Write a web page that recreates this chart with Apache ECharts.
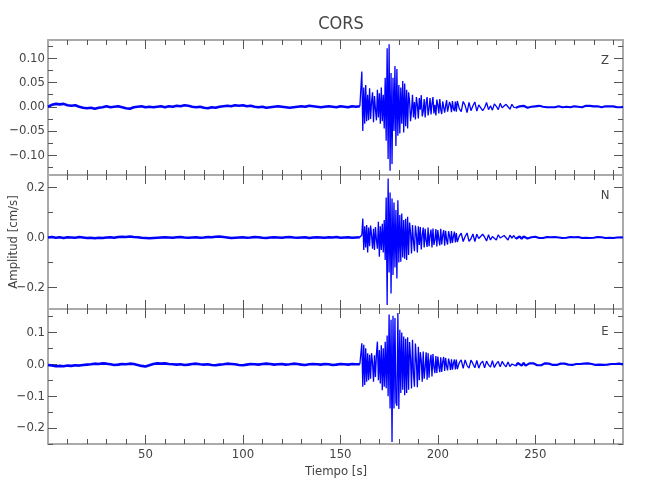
<!DOCTYPE html>
<html><head><meta charset="utf-8">
<script src="https://cdn.jsdelivr.net/npm/echarts@6/dist/echarts.min.js"></script>
<style>html,body{margin:0;padding:0;background:#fff}#c{width:650px;height:500px}</style>
</head><body><div id="c"></div>
<script>
// ---- texts ----
const chartTitle = 'CORS';
const xName = 'Tiempo [s]';
const yName = 'Amplitud [cm/s]';
const components = ['Z', 'N', 'E'];

// ---- ticks ----
const xMajorTicks = [50, 100, 150, 200, 250];
const xMinorTicks = [10,20,30,40,60,70,80,90,110,120,130,140,160,170,180,190,210,220,230,240,260,270,280,290];
const zMajorTicks = [-0.10, -0.05, 0, 0.05, 0.10];
const zMinorTicks = [-0.125, -0.075, -0.025, 0.025, 0.075, 0.125];
const nMajorTicks = [-0.2, 0, 0.2];
const nMinorTicks = [-0.1, 0.1];
const eMajorTicks = [-0.2, -0.1, 0, 0.1];
const eMinorTicks = [-0.25, -0.15, -0.05, 0.05, 0.15];
const xRange = [0, 295];
const zRange = [-0.141, 0.138];
const nRange = [-0.286, 0.25];
const eRange = [-0.25, 0.1735];

// ---- sampling grid (seconds): quiet part every 2 s, main shaking every 0.5 s, coda every 1 s ----
const segPre = { start: 0, step: 2 };       // 80 samples
const segBurst = { start: 160, step: 0.5 }; // 100 samples
const segTail = { start: 210, step: 1 };    // 86 samples
const lateCodaIndex = 30;                   // coda from 240 s drawn as a noise band

// ---- Z component (cm/s) ----
const zPre = [
 0.000, 0.004, 0.006, 0.005, 0.006, 0.003, 0.002, 0.003, 0.000,-0.002,
-0.003,-0.002,-0.004,-0.002,-0.001, 0.001,-0.001, 0.000, 0.001,-0.001,
-0.003,-0.004,-0.001, 0.000, 0.001,-0.001, 0.000,-0.001, 0.000, 0.001,
-0.001, 0.001, 0.000, 0.002, 0.001, 0.003, 0.002, 0.000,-0.001, 0.000,
-0.002,-0.003,-0.001,-0.002, 0.000, 0.001, 0.002, 0.001, 0.003, 0.002,
 0.003, 0.001, 0.002, 0.000,-0.001, 0.000,-0.002,-0.001, 0.000, 0.001,
 0.000,-0.001,-0.002,-0.001, 0.000, 0.001, 0.000, 0.002, 0.001, 0.000,
-0.001, 0.000, 0.001, 0.000,-0.001, 0.001, 0.000,-0.001, 0.001, 0.000];
const zBurst = [
 0.001,-0.002, 0.073,-0.050, 0.040,-0.035, 0.045,-0.030, 0.025,-0.028,
 0.038,-0.025, 0.010, 0.030,-0.032, 0.022,-0.005,-0.028, 0.035,-0.022,
 0.028,-0.035, 0.040,-0.030, 0.025,-0.045, 0.060,-0.070, 0.121,-0.108,
 0.129,-0.132, 0.070,-0.118, 0.060,-0.050, 0.084,-0.081, 0.078,-0.060,
 0.045,-0.055, 0.040,-0.035, 0.053,-0.053, 0.048,-0.040, 0.035,-0.045,
 0.030, 0.012,-0.030,-0.008, 0.025,-0.022, 0.010,-0.026, 0.020, 0.004,
-0.024, 0.018,-0.006, 0.024,-0.020,-0.010, 0.016,-0.022, 0.008, 0.020,
-0.018,-0.004, 0.018,-0.016, 0.006, 0.020,-0.014, 0.004,-0.018, 0.015,
 0.004,-0.014, 0.016,-0.006,-0.015, 0.011, 0.013,-0.012, 0.002, 0.014,
-0.010,-0.013, 0.010, 0.004,-0.011, 0.012,-0.004,-0.009, 0.011,-0.010];
const zTail = [
 0.012,-0.004,-0.010, 0.011, 0.003,-0.012, 0.009,-0.008, 0.002, 0.010,
-0.009, 0.004, 0.008,-0.008,-0.002, 0.009,-0.006, 0.002,-0.007, 0.006,
 0.001,-0.006, 0.007,-0.002,-0.005, 0.005, 0.000,-0.005, 0.005,-0.001,
-0.002, 0.002, 0.001,-0.002, 0.002,-0.001,-0.002, 0.002, 0.000,-0.001,
 0.001,-0.001, 0.002,-0.001, 0.000, 0.001,-0.001, 0.001,-0.001, 0.001,
-0.001,-0.001, 0.001, 0.001,-0.001, 0.001, 0.000, 0.001,-0.001, 0.001,
 0.001,-0.001, 0.000, 0.001,-0.001, 0.001, 0.002, 0.000, 0.002, 0.000,
 0.001,-0.001, 0.001, 0.001,-0.001, 0.000, 0.001,-0.001, 0.001,-0.001,
 0.001, 0.001,-0.001, 0.001,-0.001, 0.000];

// ---- N component (cm/s) ----
const nPre = [
 0.000, 0.002,-0.001, 0.001,-0.002, 0.001, 0.000,-0.001, 0.002, 0.000,
-0.002,-0.001,-0.003,-0.001,-0.002, 0.000, 0.001,-0.001, 0.002, 0.003,
 0.002, 0.004, 0.002, 0.001,-0.001,-0.002,-0.003,-0.002,-0.001, 0.000,
 0.001, 0.000,-0.001, 0.001, 0.002, 0.000,-0.001, 0.000, 0.001,-0.001,
 0.000, 0.002, 0.001, 0.003, 0.004, 0.002, 0.000,-0.002,-0.001, 0.000,
 0.001,-0.001, 0.000, 0.002, 0.001,-0.001,-0.002, 0.000, 0.001, 0.000,
-0.001, 0.001, 0.002, 0.000,-0.001, 0.000, 0.001,-0.002, 0.000, 0.001,
 0.000,-0.001, 0.001, 0.000, 0.002,-0.001, 0.000, 0.001,-0.001, 0.000];
const nBurst = [
 0.001,-0.002, 0.010, 0.076,-0.050, 0.045,-0.040, 0.050,-0.060, 0.040,
-0.035, 0.048, 0.010,-0.045, 0.035,-0.050, 0.042,-0.010,-0.045, 0.063,
-0.077, 0.045,-0.050, 0.055,-0.060, 0.070,-0.090, 0.160,-0.270, 0.236,
-0.140, 0.180,-0.224, 0.156,-0.150, 0.140,-0.120, 0.110,-0.164, 0.149,
-0.100, 0.090,-0.097, 0.096,-0.080, 0.070,-0.085, 0.075,-0.090, 0.083,
-0.070, 0.060, 0.020,-0.064, 0.050,-0.015,-0.055, 0.048, 0.010,-0.060,
 0.045,-0.030, 0.042,-0.048, 0.010, 0.040,-0.040, 0.035,-0.012,-0.038,
 0.040,-0.035, 0.008, 0.032,-0.040, 0.036,-0.030,-0.010, 0.034,-0.036,
 0.030,-0.008,-0.032, 0.035,-0.028, 0.010, 0.030,-0.033, 0.027,-0.010,
-0.028, 0.025, 0.006,-0.024, 0.026,-0.022, 0.004, 0.024,-0.020, 0.018];
const nTail = [
-0.018, 0.006, 0.017,-0.016, 0.004, 0.018,-0.015,-0.005, 0.014,-0.016,
 0.013,-0.004,-0.012, 0.013, 0.002,-0.014, 0.011,-0.010, 0.004, 0.012,
-0.010, 0.011,-0.002,-0.009, 0.008, 0.003,-0.010, 0.009,-0.002, 0.008,
-0.005, 0.002, 0.004,-0.005, 0.004,-0.001,-0.004, 0.003, 0.001,-0.003,
 0.003,-0.001,-0.002, 0.003,-0.002, 0.001, 0.002,-0.002, 0.001,-0.002,
 0.002,-0.002, 0.000, 0.002,-0.002, 0.002,-0.001, 0.001, 0.002,-0.002,
 0.001,-0.002, 0.002, 0.000,-0.002, 0.002,-0.001, 0.001,-0.002, 0.002,
-0.001,-0.002, 0.002,-0.001, 0.001, 0.000,-0.002, 0.002,-0.001, 0.001,
-0.002, 0.001, 0.000,-0.002, 0.001, 0.000];

// ---- E component (cm/s) ----
const ePre = [
-0.002,-0.004,-0.006,-0.005,-0.006,-0.004,-0.005,-0.003,-0.004,-0.002,
-0.001, 0.000, 0.002, 0.001, 0.003, 0.002, 0.000,-0.002,-0.001, 0.001,
 0.000, 0.002, 0.001,-0.002,-0.005,-0.007,-0.003, 0.001, 0.003, 0.002,
 0.003, 0.001, 0.000,-0.001, 0.000,-0.002,-0.001, 0.001, 0.002, 0.000,
-0.001, 0.000,-0.002,-0.003,-0.001, 0.000, 0.002, 0.001, 0.000,-0.002,
-0.003,-0.001, 0.001, 0.000,-0.001, 0.001, 0.002, 0.001,-0.001, 0.000,
 0.001,-0.001, 0.000, 0.002, 0.001,-0.001,-0.002, 0.000, 0.001, 0.000,
-0.001, 0.001, 0.000,-0.002,-0.001, 0.001, 0.000,-0.001, 0.001, 0.000];
const eBurst = [
 0.000,-0.003, 0.066,-0.070, 0.061,-0.065, 0.050,-0.055, 0.035,-0.050,
 0.030,-0.045, 0.035, 0.005,-0.055, 0.028,-0.040, 0.032, 0.071,-0.050,
 0.045,-0.060, 0.060,-0.081, 0.050,-0.070, 0.071,-0.075, 0.090,-0.100,
 0.156,-0.139, 0.140,-0.244, 0.152,-0.139, 0.145,-0.120,-0.130, 0.161,
-0.140, 0.108,-0.090, 0.100,-0.080, 0.087,-0.097, 0.080,-0.090, 0.085,
-0.080, 0.070, 0.020,-0.076, 0.077,-0.030,-0.070, 0.065, 0.010,-0.072,
 0.055,-0.050, 0.038, 0.012,-0.055, 0.040,-0.045,-0.010, 0.038,-0.048,
 0.035,-0.042, 0.010, 0.030,-0.038, 0.032,-0.008,-0.028, 0.026,-0.027,
 0.024,-0.005,-0.025, 0.022,-0.024, 0.008, 0.023,-0.021, 0.020,-0.006,
-0.019, 0.018, 0.004,-0.018, 0.016,-0.017, 0.003, 0.015,-0.016, 0.015];
const eTail = [
-0.015, 0.005, 0.014,-0.013, 0.014,-0.004,-0.012, 0.013, 0.002,-0.011,
 0.012,-0.012, 0.003, 0.010,-0.011, 0.010,-0.002,-0.009, 0.011,-0.010,
 0.002, 0.009,-0.008, 0.009,-0.001,-0.008, 0.007,-0.007, 0.001, 0.006,
-0.005, 0.004,-0.002,-0.004, 0.004,-0.004, 0.001, 0.003,-0.003, 0.003,
-0.001,-0.003, 0.003,-0.003, 0.001, 0.003,-0.003, 0.002,-0.001,-0.002,
 0.003,-0.002, 0.000, 0.002,-0.002, 0.002,-0.001,-0.001, 0.002,-0.002,
 0.001, 0.001,-0.002, 0.001,-0.001, 0.002,-0.002, 0.003,-0.002, 0.001,
 0.000,-0.002, 0.002,-0.001, 0.001,-0.002, 0.002,-0.001, 0.001, 0.001,
-0.002, 0.001,-0.001, 0.002,-0.001, 0.000];

// ---- build [time, value] pairs from the sampling grid ----
function pairs(seg, vals) { return vals.map((v, i) => [seg.start + i * seg.step, v]); }
const pres = [zPre, nPre, ePre];
const bursts = [zBurst, nBurst, eBurst];
const tails = [zTail, nTail, eTail];
const ranges = [zRange, nRange, eRange];
const majors = [zMajorTicks, nMajorTicks, eMajorTicks];
const minors = [zMinorTicks, nMinorTicks, eMinorTicks];
const decimals = [2, 1, 1];

// ---- styling ----
const FONT = "'Liberation Sans Narrow', 'DejaVu Sans Condensed', sans-serif";
const FRAME = '#aaaaaa';
const TICK = '#555555';
const TEXT = '#444444';
const TRACE = '#0000ff';
const grids = [
  { left: 48, width: 575, top: 40, height: 135 },
  { left: 48, width: 575, top: 175, height: 134 },
  { left: 48, width: 575, top: 309, height: 135 }
];

const xAxes = [], yAxes = [], series = [];
grids.forEach((g, gi) => {
  const base = { gridIndex: gi, type: 'value', splitLine: { show: false } };
  ['bottom', 'top'].forEach(pos => {
    xAxes.push(Object.assign({}, base, {
      position: pos, min: xRange[0], max: xRange[1],
      axisLine: { show: true, onZero: false, lineStyle: { color: FRAME, width: 2 } },
      axisTick: { show: true, inside: true, length: 9, customValues: xMajorTicks, lineStyle: { color: TICK, width: 1 } },
      axisLabel: { show: pos === 'bottom' && gi === 2, customValues: xMajorTicks, margin: 4,
        color: TEXT, fontFamily: FONT, fontSize: 13 }
    }));
    xAxes.push(Object.assign({}, base, {
      position: pos, min: xRange[0], max: xRange[1],
      axisLine: { show: false, onZero: false },
      axisTick: { show: true, inside: true, length: 5, customValues: xMinorTicks, lineStyle: { color: TICK, width: 1 } },
      axisLabel: { show: false }
    }));
  });
  ['left', 'right'].forEach(pos => {
    yAxes.push(Object.assign({}, base, {
      position: pos, min: ranges[gi][0], max: ranges[gi][1],
      axisLine: { show: true, onZero: false, lineStyle: { color: FRAME, width: 2 } },
      axisTick: { show: true, inside: true, length: 9, customValues: majors[gi], lineStyle: { color: TICK, width: 1 } },
      axisLabel: { show: pos === 'left', customValues: majors[gi], margin: 3, color: TEXT, fontFamily: FONT, fontSize: 13,
        formatter: v => Number(v).toFixed(decimals[gi]).replace('-', '\u2212') }
    }));
    yAxes.push(Object.assign({}, base, {
      position: pos, min: ranges[gi][0], max: ranges[gi][1],
      axisLine: { show: false, onZero: false },
      axisTick: { show: true, inside: true, length: 5, customValues: minors[gi], lineStyle: { color: TICK, width: 1 } },
      axisLabel: { show: false }
    }));
  });
  const burstPairs = pairs(segBurst, bursts[gi]);
  const tailPairs = pairs(segTail, tails[gi]);
  const common = { type: 'line', xAxisIndex: gi * 4, yAxisIndex: gi * 4, showSymbol: false, symbol: 'none',
    sampling: null, clip: true, z: 1 };
  // quiet pre-event noise: drawn as a thicker band
  series.push(Object.assign({}, common, {
    data: pairs(segPre, pres[gi]).concat([burstPairs[0]]),
    lineStyle: { color: TRACE, width: 2.6 }
  }));
  // strong shaking and early coda
  series.push(Object.assign({}, common, {
    data: burstPairs.concat(tailPairs.slice(0, lateCodaIndex + 1)),
    lineStyle: { color: TRACE, width: 1.3 }
  }));
  // late coda: noise band
  series.push(Object.assign({}, common, {
    data: tailPairs.slice(lateCodaIndex),
    lineStyle: { color: TRACE, width: 2.2 }
  }));
});

const chart = echarts.init(document.getElementById('c'), null, { renderer: 'canvas' });
chart.setOption({
  animation: false,
  backgroundColor: '#ffffff',
  title: { text: chartTitle, left: 336, textAlign: 'center', top: 10,
    textStyle: { fontFamily: FONT, fontSize: 18, fontWeight: 'normal', color: TEXT } },
  grid: grids.map(g => Object.assign({ containLabel: false }, g)),
  xAxis: xAxes,
  yAxis: yAxes,
  series: series,
  graphic: [
    { type: 'text', x: 336, y: 472, style: { text: xName, fontFamily: FONT, fontSize: 13, fill: TEXT, textAlign: 'center', textVerticalAlign: 'middle' } },
    { type: 'text', x: 14, y: 242, rotation: Math.PI / 2, style: { text: yName, fontFamily: FONT, fontSize: 13, fill: TEXT, textAlign: 'center', textVerticalAlign: 'middle' } },
    { type: 'text', x: 605, y: 61, style: { text: components[0], fontFamily: FONT, fontSize: 13, fill: TEXT, textAlign: 'center', textVerticalAlign: 'middle' } },
    { type: 'text', x: 605, y: 196, style: { text: components[1], fontFamily: FONT, fontSize: 13, fill: TEXT, textAlign: 'center', textVerticalAlign: 'middle' } },
    { type: 'text', x: 605, y: 332, style: { text: components[2], fontFamily: FONT, fontSize: 13, fill: TEXT, textAlign: 'center', textVerticalAlign: 'middle' } }
  ]
});
</script>
</body></html>
